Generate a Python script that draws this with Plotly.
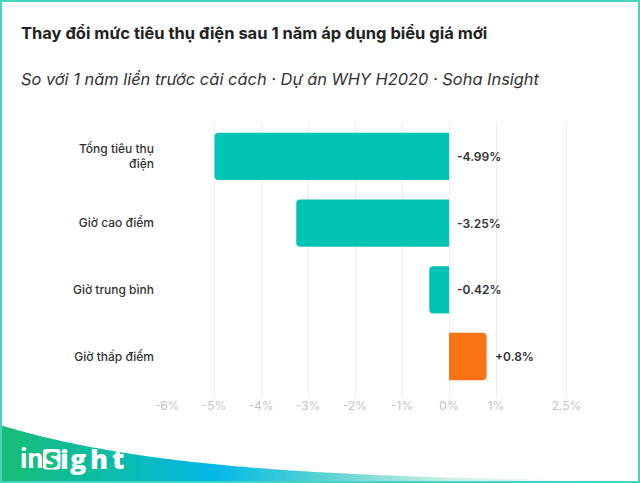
import plotly.graph_objects as go
import math

# ---- data ----
categories = ["Tổng tiêu thụ<br>điện", "Giờ cao điểm", "Giờ trung bình", "Giờ thấp điểm"]
values = [-4.99, -3.25, -0.42, 0.8]
value_labels = ["-4.99%", "-3.25%", "-0.42%", "+0.8%"]
bar_colors = ["#00C4B4", "#00C4B4", "#00C4B4", "#F97316"]
tick_vals = [-6, -5, -4, -3, -2, -1, 0, 1, 2.5]
tick_text = ["-6%", "-5%", "-4%", "-3%", "-2%", "-1%", "0%", "1%", "2.5%"]

title = "Thay đổi mức tiêu thụ điện sau 1 năm áp dụng biểu giá mới"
subtitle = "So với 1 năm liền trước cải cách · Dự án WHY H2020 · Soha Insight"

W, H = 640, 483
L, R, T, B = 167, 50, 123, 86
PW, PH = W - L - R, H - T - B


def px(x):
    return (x - L) / PW


def py(y):
    return (H - B - y) / PH


FONT = "Inter, Noto Sans, sans-serif"

fig = go.Figure()
fig.add_trace(go.Bar(
    y=categories, x=values, orientation="h",
    marker=dict(color=bar_colors, cornerradius=4, line=dict(width=0)),
    hoverinfo="skip", showlegend=False,
))

annotations = []
for c, v, t in zip(categories, values, value_labels):
    annotations.append(dict(
        x=max(v, 0), y=c, xref="x", yref="y", text=t, showarrow=False,
        xanchor="left", yanchor="middle", xshift=6,
        font=dict(family=FONT, size=12, color="#333333", weight=600),
    ))

# title + subtitle
annotations.append(dict(x=px(19), y=py(33), xref="paper", yref="paper", text=title,
                        showarrow=False, xanchor="left", yanchor="middle",
                        font=dict(family=FONT, size=16.5, color="#222222", weight=700)))
annotations.append(dict(x=px(19), y=py(79), xref="paper", yref="paper",
                        text="<i>" + subtitle + "</i>",
                        showarrow=False, xanchor="left", yanchor="middle",
                        font=dict(family=FONT, size=16.4, color="#333333")))

shapes = []


# bottom gradient wedge built from thin vertical strips
def edge(x):
    return 483 - 58 * math.exp(-x / 190)


stops = [(0, (23, 190, 116)), (110, (10, 188, 170)), (215, (2, 184, 230)),
         (330, (95, 212, 210)), (450, (205, 240, 228)), (560, (240, 250, 247)),
         (640, (255, 255, 255))]


def col(x):
    for (x0, c0), (x1, c1) in zip(stops[:-1], stops[1:]):
        if x0 <= x <= x1:
            f = (x - x0) / (x1 - x0)
            return "rgb(%d,%d,%d)" % tuple(round(a + (b - a) * f) for a, b in zip(c0, c1))
    return "rgb(255,255,255)"


N = 128
step = W / N
for i in range(N):
    x0 = i * step
    x1 = x0 + step + 0.6
    path = "M %f,%f L %f,%f L %f,%f L %f,%f Z" % (
        px(x0), py(edge(x0)), px(x1), py(edge(x1)), px(x1), py(483), px(x0), py(483))
    shapes.append(dict(type="path", path=path, xref="paper", yref="paper",
                       fillcolor=col(x0 + step / 2), line=dict(width=0), layer="above"))

# logo: "in" [S] "ight"
LOGO_FONT = "Open Sans, sans-serif"
annotations.append(dict(x=px(31.7), y=py(458), xref="paper", yref="paper", text="in",
                        showarrow=False, xanchor="center", yanchor="middle",
                        font=dict(family="Roboto, sans-serif", size=28, color="white", weight=700)))
logo_letters = [("i", 64.2), ("g", 78.3), ("h", 99.2), ("t", 117.5)]
for ch, cx in logo_letters:
    annotations.append(dict(x=px(cx), y=py(458), xref="paper", yref="paper", text=ch,
                            showarrow=False, xanchor="center", yanchor="middle",
                            font=dict(family=LOGO_FONT, size=27, color="white", weight=800)))
bx0, bx1, by0, by1, r = 43, 60.5, 449, 469.5, 3
shapes.append(dict(type="path", xref="paper", yref="paper", layer="above",
                   path="M %f,%f L %f,%f Q %f,%f %f,%f L %f,%f Q %f,%f %f,%f L %f,%f Q %f,%f %f,%f L %f,%f Q %f,%f %f,%f Z" % (
                       px(bx0 + r), py(by0), px(bx1 - r), py(by0), px(bx1), py(by0), px(bx1), py(by0 + r),
                       px(bx1), py(by1 - r), px(bx1), py(by1), px(bx1 - r), py(by1),
                       px(bx0 + r), py(by1), px(bx0), py(by1), px(bx0), py(by1 - r),
                       px(bx0), py(by0 + r), px(bx0), py(by0), px(bx0 + r), py(by0)),
                   fillcolor="white", line=dict(width=0)))
annotations.append(dict(x=px((bx0 + bx1) / 2), y=py(459), xref="paper", yref="paper", text="S",
                        showarrow=False, xanchor="center", yanchor="middle",
                        font=dict(family=LOGO_FONT, size=23, color="#16BE80", weight=800)))

# outer border
shapes.append(dict(type="rect", xref="paper", yref="paper", x0=px(1), x1=px(639), y0=py(1), y1=py(482),
                   line=dict(color="#45D3C5", width=2), fillcolor="rgba(0,0,0,0)", layer="above"))

fig.update_layout(
    width=W, height=H, margin=dict(l=L, r=R, t=T, b=B, pad=0),
    paper_bgcolor="white", plot_bgcolor="white",
    bargap=0.29,
    xaxis=dict(range=[-6, 3], tickvals=tick_vals, ticktext=tick_text,
               showgrid=True, gridcolor="#EEEEEE", gridwidth=1, zeroline=False,
               showline=False, ticks="", fixedrange=True,
               tickfont=dict(family=FONT, size=12, color="#C4C4C4")),
    yaxis=dict(type="category", range=[3.606, -0.5], showgrid=False, zeroline=False,
               showline=False, ticks="", ticklabelstandoff=12, fixedrange=True,
               tickfont=dict(family=FONT, size=12, color="#333333", weight=500)),
    annotations=annotations, shapes=shapes, showlegend=False,
)

fig.write_html("out.html", config={"displayModeBar": False})
